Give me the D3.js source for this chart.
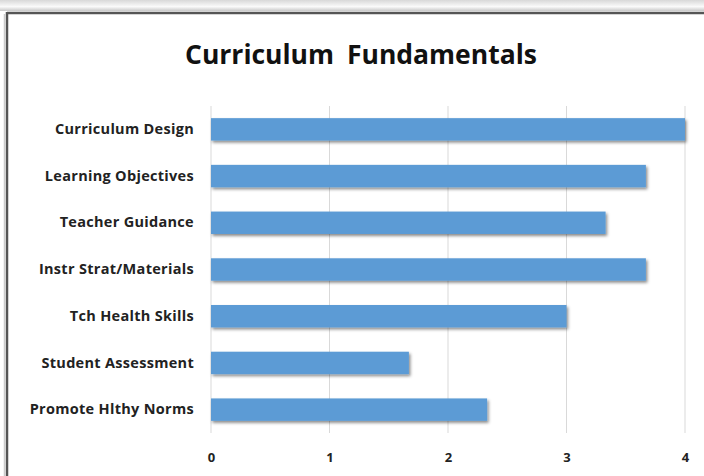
<!DOCTYPE html>
<html>
<head>
<meta charset="utf-8">
<script src="https://cdn.jsdelivr.net/npm/d3@7"></script>
<style>
  body { margin: 0; background: #fff; }
  svg { display: block; }
</style>
</head>
<body>
<div id="vis"></div>
<script>
// chart data
const categories = ["Curriculum Design", "Learning Objectives", "Teacher Guidance",
                    "Instr Strat/Materials", "Tch Health Skills", "Student Assessment",
                    "Promote Hlthy Norms"];
const scores = [4, 3.67, 3.33, 3.67, 3, 1.67, 2.33];
const xTicks = [0, 1, 2, 3, 4];

const WIDTH = 704, HEIGHT = 476;
const PLOT = { left: 211, right: 685, top: 106, bottom: 433 };

const svg = d3.select("#vis")
  .append("svg")
    .attr("width", WIDTH)
    .attr("height", HEIGHT);

// bar drop shadow
const defs = svg.append("defs");
const shadow = defs.append("filter").attr("id", "shadow")
    .attr("x", "-5%").attr("y", "-20%").attr("width", "110%").attr("height", "160%");
shadow.append("feDropShadow")
    .attr("dx", 1.5).attr("dy", 2).attr("stdDeviation", 1.5)
    .attr("flood-color", "#000").attr("flood-opacity", 0.45);

const topFade = defs.append("linearGradient").attr("id", "topFade")
    .attr("x1", 0).attr("y1", 0).attr("x2", 0).attr("y2", 1);
topFade.append("stop").attr("offset", "0%").attr("stop-color", "#d8d8d8");
topFade.append("stop").attr("offset", "60%").attr("stop-color", "#fafafa");
topFade.append("stop").attr("offset", "100%").attr("stop-color", "#c8c8c8");

// frame pieces
svg.append("rect").attr("x", 0).attr("y", 0).attr("width", WIDTH).attr("height", 11)
    .attr("fill", "url(#topFade)");
svg.append("line").attr("x1", 7).attr("x2", WIDTH).attr("y1", 13).attr("y2", 13)
    .attr("stroke", "#555").attr("stroke-width", 2.5);
svg.append("line").attr("x1", 7).attr("x2", 7).attr("y1", 12).attr("y2", HEIGHT)
    .attr("stroke", "#555").attr("stroke-width", 2.5);
svg.append("line").attr("x1", 4.5).attr("x2", 4.5).attr("y1", 14).attr("y2", HEIGHT)
    .attr("stroke", "#ccc").attr("stroke-width", 1.5);

// scales
const x = d3.scaleLinear().domain([0, 4]).range([PLOT.left, PLOT.right]);
const y = d3.scaleBand().domain(categories).range([PLOT.top, PLOT.bottom]).paddingInner(0.52).paddingOuter(0.26);

// gridlines
svg.append("g")
  .selectAll("line")
  .data(xTicks)
  .enter()
  .append("line")
    .attr("x1", d => x(d)).attr("x2", d => x(d))
    .attr("y1", PLOT.top).attr("y2", PLOT.bottom)
    .attr("stroke", "#d9d9d9").attr("stroke-width", 1);

// bars
svg.append("g")
  .selectAll("rect")
  .data(scores)
  .enter()
  .append("rect")
    .attr("x", x(0))
    .attr("y", (d, i) => y(categories[i]))
    .attr("width", d => x(d) - x(0))
    .attr("height", y.bandwidth())
    .attr("fill", "#5b9bd5")
    .attr("filter", "url(#shadow)");

// x axis
const xAxis = svg.append("g")
    .attr("transform", `translate(0,${PLOT.bottom})`)
    .call(d3.axisBottom(x).tickValues(xTicks).tickFormat(d3.format("d")).tickSize(0).tickPadding(20));
xAxis.select(".domain").remove();
xAxis.selectAll("text")
    .attr("font-family", "'Open Sans', sans-serif")
    .attr("font-weight", "bold").attr("font-size", 13).attr("fill", "#222");

// y axis
const yAxis = svg.append("g")
    .attr("transform", `translate(${PLOT.left},0)`)
    .call(d3.axisLeft(y).tickSize(0).tickPadding(17));
yAxis.select(".domain").remove();
yAxis.selectAll("text")
    .attr("font-family", "'Open Sans', sans-serif")
    .attr("font-weight", "bold").attr("font-size", 14.5).attr("fill", "#222")
    .attr("letter-spacing", 0.3);

// title
svg.append("text")
    .attr("x", 361).attr("y", 64)
    .attr("text-anchor", "middle")
    .attr("font-family", "'Open Sans', sans-serif")
    .attr("font-weight", "bold").attr("font-size", 26.5)
    .attr("word-spacing", 6)
    .attr("fill", "#111")
    .text("Curriculum Fundamentals");
</script>
</body>
</html>
